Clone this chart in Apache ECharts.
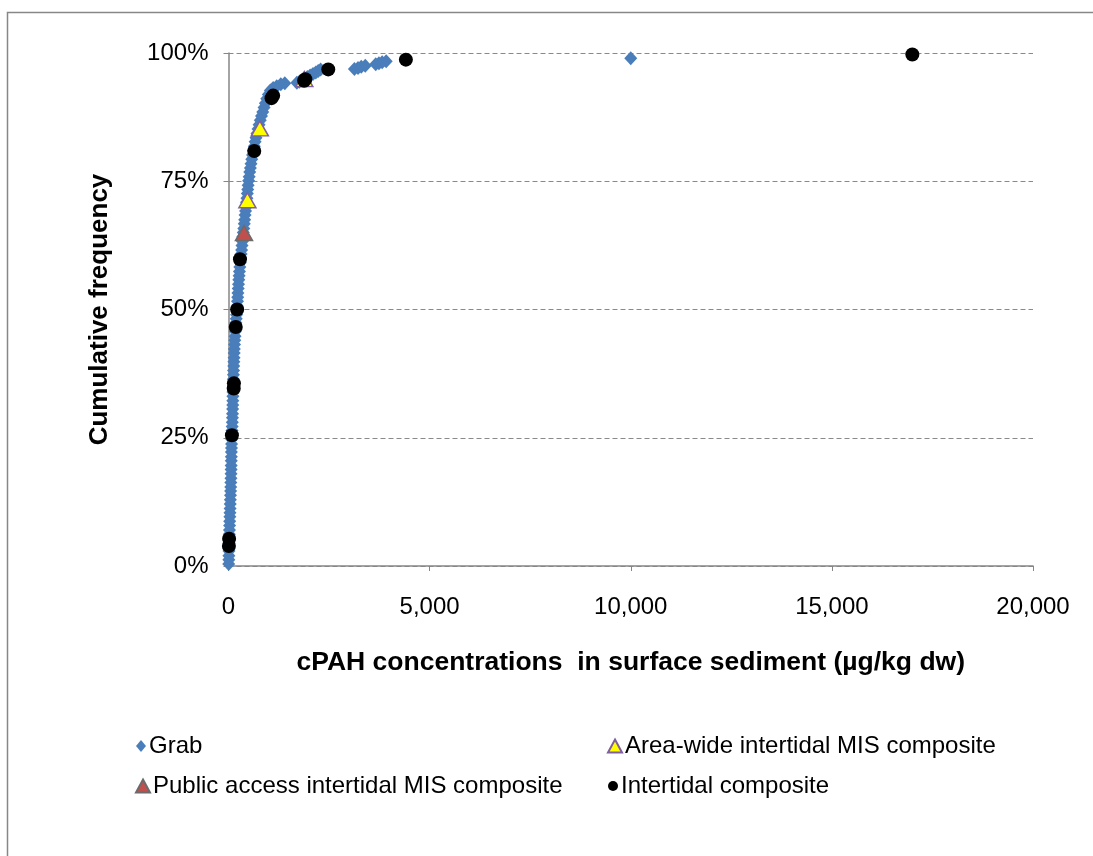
<!DOCTYPE html>
<html>
<head>
<meta charset="utf-8">
<script src="https://cdn.jsdelivr.net/npm/echarts@6/dist/echarts.min.js"></script>
<style>
html,body{margin:0;padding:0;background:#fff;}
#chart{width:1093px;height:856px;}
</style>
</head>
<body>
<div id="chart"></div>
<script>
// ---- data ----
var seriesNames = ['Grab', 'Area-wide intertidal MIS composite', 'Public access intertidal MIS composite', 'Intertidal composite'];
var xTickValues = [0, 5000, 10000, 15000, 20000];
var yTickValues = [0, 25, 50, 75, 100];

// Grab: concentration (µg/kg dw) and cumulative frequency (%)
var grabConc = [5,8,10,12,14,16,18,20,24,27,30,34,37,40,43,46,50,53,56,58,61,63,65,67,69,71,72,74,76,79,83,87,91,95,98,100,103,105,107,109,111,114,117,120,123,126,130,134,138,141,145,150,156,162,168,176,184,192,200,210,218,224,229,235,242,249,256,264,272,282,292,302,314,326,336,346,356,368,380,392,402,412,424,436,448,458,468,478,488,500,514,528,544,560,578,598,620,642,662,684,708,734,760,790,820,852,884,916,950,990,1040,1110,1200,1300,1400,1700,1760,1830,1900,1960,2030,2100,2170,2230,2290,3130,3220,3300,3400,3660,3740,3820,3920,10000];
var grabFreq = [0.4,1.2,2.0,2.9,3.7,4.5,5.4,6.2,7.0,7.9,8.7,9.6,10.4,11.2,12.1,12.9,13.8,14.6,15.4,16.3,17.1,18.0,18.8,19.6,20.5,21.3,22.2,23.0,23.8,24.7,25.5,26.4,27.2,28.0,28.9,29.7,30.6,31.4,32.2,33.1,33.9,34.8,35.6,36.4,37.3,38.1,39.0,39.8,40.6,41.5,42.3,43.2,44.0,44.8,45.7,46.5,47.4,48.2,49.0,49.9,50.7,51.6,52.4,53.2,54.1,54.9,55.8,56.6,57.4,58.3,59.1,60.0,60.8,61.6,62.5,63.3,64.2,65.0,65.8,66.7,67.5,68.4,69.2,70.0,70.9,71.7,72.6,73.4,74.2,75.1,75.9,76.8,77.6,78.4,79.3,80.1,81.0,81.8,82.7,83.5,84.3,85.2,86.0,86.9,87.7,88.5,89.4,90.2,91.1,91.9,92.7,93.2,93.5,93.9,94.1,94.2,94.4,94.7,95.0,95.3,95.6,95.9,96.2,96.5,96.8,96.9,97.1,97.3,97.5,97.8,98.0,98.2,98.4,99.0];

var areaConc = [470, 780, 1885];
var areaFreq = [71.3, 85.3, 94.9];

var publicConc = [385];
var publicFreq = [64.9];

var interConc = [10, 15, 85, 130, 135, 180, 215, 285, 640, 1070, 1110, 1880, 1910, 2480, 4410, 17000];
var interFreq = [3.9, 5.3, 25.5, 34.6, 35.6, 46.6, 50.0, 59.8, 80.9, 91.2, 91.7, 94.6, 94.9, 96.8, 98.7, 99.7];

function pairs(xs, ys) { return xs.map(function (x, i) { return [x, ys[i]]; }); }

var FONT = '"Liberation Sans", Arial, sans-serif';
var chart = echarts.init(document.getElementById('chart'), null, {renderer: 'canvas'});

function legendAt(name, left, top, iw, ih) {
  return {
    data: [name], left: left, top: top, orient: 'horizontal',
    itemWidth: iw, itemHeight: ih, itemGap: 0, padding: 0,
    selectedMode: false,
    textStyle: {fontFamily: FONT, fontSize: 24, color: '#000', padding: [0, 0, 0, -2]}
  };
}

var option = {
  animation: false,
  backgroundColor: '#fff',
  graphic: [{
    type: 'rect', left: 5, top: 10, silent: true,
    shape: {x: 0, y: 0, width: 1200, height: 1000},
    style: {fill: 'none', stroke: '#878787', lineWidth: 1.5}
  }],
  grid: {left: 228.5, right: 60, top: 53, bottom: 290, containLabel: false},
  xAxis: {
    type: 'value', min: 0, max: 20000, interval: 5000,
    name: 'cPAH concentrations  in surface sediment (µg/kg dw)',
    nameLocation: 'middle', nameGap: 83,
    nameTextStyle: {fontFamily: FONT, fontSize: 26.5, fontWeight: 'bold', color: '#000'},
    axisLine: {show: true, onZero: false, lineStyle: {color: '#868686', width: 1.5}},
    axisTick: {show: true, inside: false, length: 5, lineStyle: {color: '#868686'}},
    axisLabel: {fontFamily: FONT, fontSize: 24, color: '#000', margin: 29,
      formatter: function (v) { return v.toLocaleString('en-US'); }},
    splitLine: {show: false}
  },
  yAxis: {
    type: 'value', min: 0, max: 100, interval: 25,
    name: 'Cumulative frequency',
    nameLocation: 'middle', nameGap: 116, nameRotate: 90,
    nameTextStyle: {fontFamily: FONT, fontSize: 26, fontWeight: 'bold', color: '#000'},
    axisLine: {show: true, lineStyle: {color: '#868686', width: 1.5}},
    axisTick: {show: true, inside: false, length: 5, lineStyle: {color: '#868686'}},
    axisLabel: {fontFamily: FONT, fontSize: 24, color: '#000', margin: 20,
      formatter: function (v) { return v + '%'; }},
    splitLine: {show: true, lineStyle: {color: '#8a8a8a', type: [5, 3], width: 1}}
  },
  legend: [
    legendAt(seriesNames[0], 136, 734, 10, 12),
    legendAt(seriesNames[1], 607, 734, 14, 13),
    legendAt(seriesNames[2], 135, 774, 14, 13),
    legendAt(seriesNames[3], 608, 774, 10, 10)
  ],
  series: [
    {
      name: seriesNames[0], type: 'scatter', symbol: 'diamond', symbolSize: [13, 14],
      itemStyle: {color: '#4A7EBB', opacity: 1}, z: 2,
      data: pairs(grabConc, grabFreq)
    },
    {
      name: seriesNames[2], type: 'scatter', symbol: 'triangle', symbolSize: [17, 15],
      itemStyle: {color: '#C0504D', borderColor: '#6b6b6b', borderWidth: 1.5, opacity: 1}, z: 3,
      data: pairs(publicConc, publicFreq)
    },
    {
      name: seriesNames[1], type: 'scatter', symbol: 'triangle', symbolSize: [17, 15],
      itemStyle: {color: '#FFFF00', borderColor: '#7F5FA0', borderWidth: 1.5, opacity: 1}, z: 4,
      data: pairs(areaConc, areaFreq)
    },
    {
      name: seriesNames[3], type: 'scatter', symbol: 'circle', symbolSize: 14,
      itemStyle: {color: '#000', opacity: 1}, z: 5,
      data: pairs(interConc, interFreq)
    }
  ]
};
chart.setOption(option);
</script>
</body>
</html>
